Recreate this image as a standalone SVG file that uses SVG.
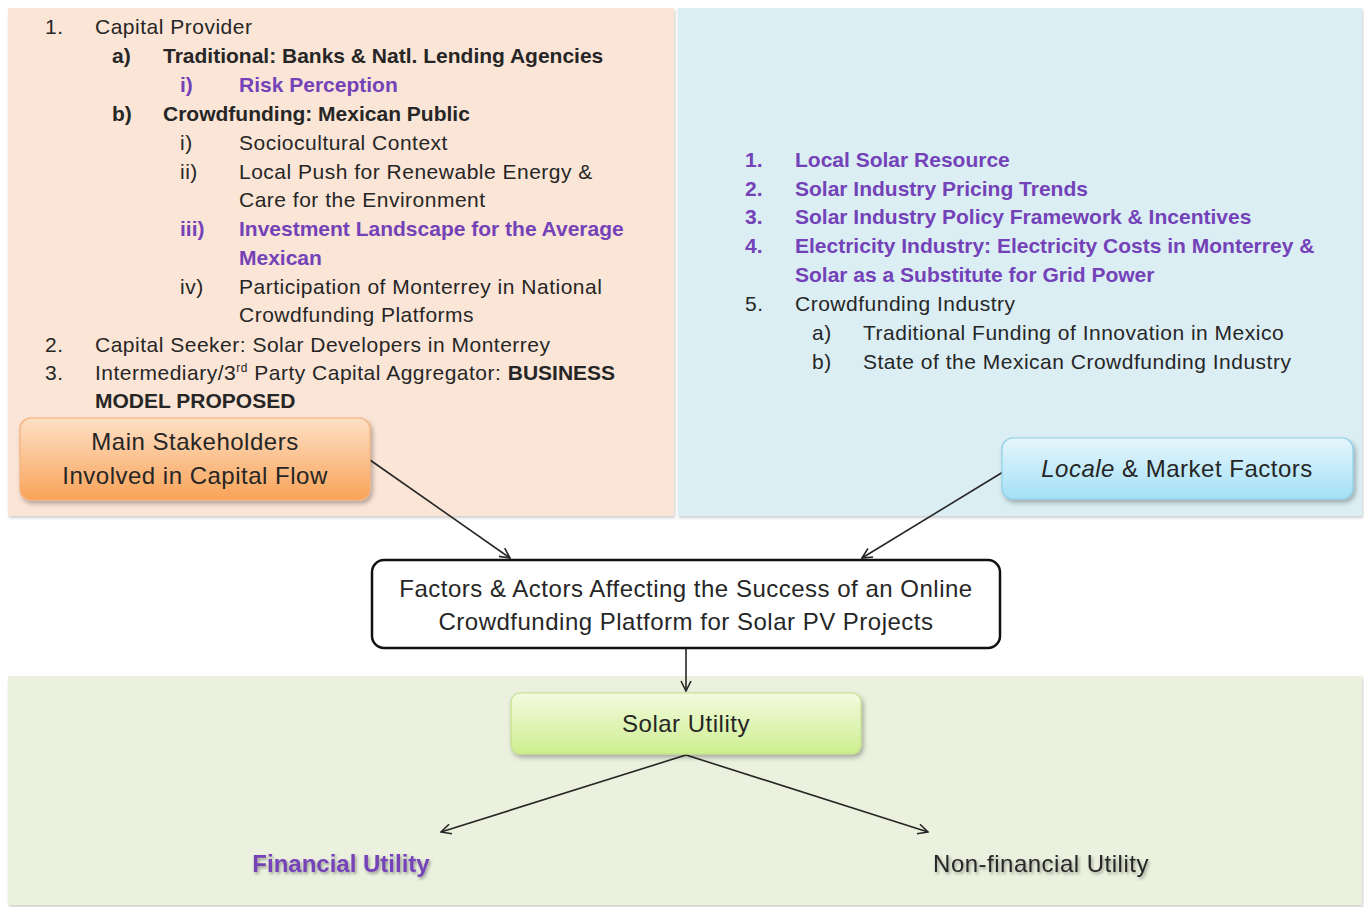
<svg xmlns="http://www.w3.org/2000/svg" width="1364" height="907" viewBox="0 0 1364 907">
  <defs>
    <style>
      .t { font-family: "Liberation Sans", Arial, sans-serif; font-size: 21px; letter-spacing: 0.5px; fill: #262626; }
      .b { font-weight: bold; letter-spacing: 0; }
      .p { fill: #7442b8; font-weight: bold; letter-spacing: 0; }
      .box { font-family: "Liberation Sans", Arial, sans-serif; font-size: 24px; letter-spacing: 0.5px; fill: #262626; text-anchor: middle; }
      .conn { stroke: #262626; stroke-width: 1.6; fill: none; marker-end: url(#arrow); }
    </style>
    <marker id="arrow" viewBox="0 0 12 12" refX="11" refY="6" markerWidth="12" markerHeight="12" markerUnits="userSpaceOnUse" orient="auto">
      <path d="M1,1 L11,6 L1,11" fill="none" stroke="#262626" stroke-width="1.6"/>
    </marker>
    <filter id="shadow" x="-10%" y="-10%" width="125%" height="140%">
      <feDropShadow dx="2" dy="3" stdDeviation="2.5" flood-color="#000" flood-opacity="0.3"/>
    </filter>
    <filter id="panelShadow" x="-2%" y="-2%" width="104%" height="106%">
      <feDropShadow dx="1" dy="2" stdDeviation="1.5" flood-color="#000" flood-opacity="0.2"/>
    </filter>
    <filter id="textShadow" x="-10%" y="-30%" width="120%" height="180%">
      <feDropShadow dx="1.5" dy="2" stdDeviation="1.5" flood-color="#000" flood-opacity="0.35"/>
    </filter>
    <linearGradient id="gOrange" x1="0" y1="0" x2="0" y2="1">
      <stop offset="0" stop-color="#fde0c6"/>
      <stop offset="1" stop-color="#f9a358"/>
    </linearGradient>
    <linearGradient id="gBlue" x1="0" y1="0" x2="0" y2="1">
      <stop offset="0" stop-color="#e6f6fc"/>
      <stop offset="1" stop-color="#a3e0f6"/>
    </linearGradient>
    <linearGradient id="gGreen" x1="0" y1="0" x2="0" y2="1">
      <stop offset="0" stop-color="#f3fbe0"/>
      <stop offset="1" stop-color="#cdee8e"/>
    </linearGradient>
  </defs>

  <rect width="1364" height="907" fill="#ffffff"/>

  <!-- background panels -->
  <g id="panels">
    <rect x="8" y="8" width="666" height="508" fill="#fbe5d6" filter="url(#panelShadow)"/>
    <rect x="678" y="8" width="684" height="508" fill="#dbeef4" filter="url(#panelShadow)"/>
    <rect x="8" y="676" width="1354" height="229" fill="#ebf1de" filter="url(#panelShadow)"/>
  </g>

  <!-- stakeholder list -->
  <g id="stakeholder-list">
    <text class="t" x="45" y="34">1.</text><text class="t" x="95" y="34">Capital Provider</text>
    <text class="t b" x="112" y="63">a)</text><text class="t b" x="163" y="63">Traditional: Banks &amp; Natl. Lending Agencies</text>
    <text class="t p" x="180" y="92">i)</text><text class="t p" x="239" y="92">Risk Perception</text>
    <text class="t b" x="112" y="121">b)</text><text class="t b" x="163" y="121">Crowdfunding: Mexican Public</text>
    <text class="t" x="180" y="150">i)</text><text class="t" x="239" y="150">Sociocultural  Context</text>
    <text class="t" x="180" y="179">ii)</text><text class="t" x="239" y="179">Local Push for Renewable Energy &amp;</text>
    <text class="t" x="239" y="207">Care for the Environment</text>
    <text class="t p" x="180" y="236">iii)</text><text class="t p" x="239" y="236">Investment Landscape for the Average</text>
    <text class="t p" x="239" y="265">Mexican</text>
    <text class="t" x="180" y="294">iv)</text><text class="t" x="239" y="294">Participation of Monterrey in National</text>
    <text class="t" x="239" y="322">Crowdfunding Platforms</text>
    <text class="t" x="45" y="352">2.</text><text class="t" x="95" y="352">Capital Seeker: Solar Developers in Monterrey</text>
    <text class="t" x="45" y="380">3.</text><text class="t" x="95" y="380">Intermediary/3<tspan font-size="12" dy="-8">rd</tspan><tspan dy="8"> Party Capital Aggregator: </tspan><tspan class="b">BUSINESS</tspan></text>
    <text class="t b" x="95" y="408">MODEL PROPOSED</text>
  </g>

  <!-- locale and market list -->
  <g id="market-list">
    <text class="t p" x="745" y="167">1.</text><text class="t p" x="795" y="167">Local Solar Resource</text>
    <text class="t p" x="745" y="196">2.</text><text class="t p" x="795" y="196">Solar Industry Pricing Trends</text>
    <text class="t p" x="745" y="224">3.</text><text class="t p" x="795" y="224">Solar Industry Policy Framework &amp; Incentives</text>
    <text class="t p" x="745" y="253">4.</text><text class="t p" x="795" y="253">Electricity Industry: Electricity Costs in Monterrey &amp;</text>
    <text class="t p" x="795" y="282">Solar as a Substitute for Grid Power</text>
    <text class="t" x="745" y="311">5.</text><text class="t" x="795" y="311">Crowdfunding Industry</text>
    <text class="t" x="812" y="340">a)</text><text class="t" x="863" y="340">Traditional  Funding of Innovation in Mexico</text>
    <text class="t" x="812" y="369">b)</text><text class="t" x="863" y="369">State of the Mexican Crowdfunding  Industry</text>
  </g>

  <!-- connectors -->
  <g id="connectors">
    <line class="conn" x1="370" y1="460" x2="510" y2="558"/>
    <line class="conn" x1="1003" y1="472" x2="862" y2="558"/>
    <line class="conn" x1="686" y1="649" x2="686" y2="691"/>
    <line class="conn" x1="686" y1="755" x2="441" y2="832"/>
    <line class="conn" x1="686" y1="755" x2="928" y2="832"/>
  </g>

  <g id="stakeholders">
    <rect x="20" y="418" width="350" height="82" rx="11" fill="url(#gOrange)" stroke="#f5b07a" stroke-width="1.2" filter="url(#shadow)"/>
    <text class="box" x="195" y="450">Main Stakeholders</text>
    <text class="box" x="195" y="484">Involved in Capital Flow</text>
  </g>

  <g id="locale-market">
    <rect x="1002" y="438" width="351" height="61" rx="11" fill="url(#gBlue)" stroke="#8fd0ea" stroke-width="1.2" filter="url(#shadow)"/>
    <text class="box" x="1177" y="477"><tspan font-style="italic">Locale</tspan> &amp; Market Factors</text>
  </g>

  <g id="success-factors">
    <rect x="372" y="560" width="628" height="88" rx="12" fill="#ffffff" stroke="#111111" stroke-width="2.5"/>
    <text class="box" x="686" y="597">Factors &amp; Actors Affecting the Success of an Online</text>
    <text class="box" x="686" y="630">Crowdfunding Platform for Solar PV Projects</text>
  </g>

  <g id="solar-utility">
    <rect x="511" y="693" width="350" height="61" rx="9" fill="url(#gGreen)" stroke="#c3e08a" stroke-width="1.2" filter="url(#shadow)"/>
    <text class="box" x="686" y="732">Solar Utility</text>
  </g>

  <g id="financial-utility">
    <text class="box" x="341" y="872" font-weight="bold" filter="url(#textShadow)" style="fill:#7442b8;letter-spacing:0">Financial Utility</text>
  </g>

  <g id="nonfinancial-utility">
    <text class="box" x="1041" y="872" filter="url(#textShadow)">Non-financial  Utility</text>
  </g>
</svg>
